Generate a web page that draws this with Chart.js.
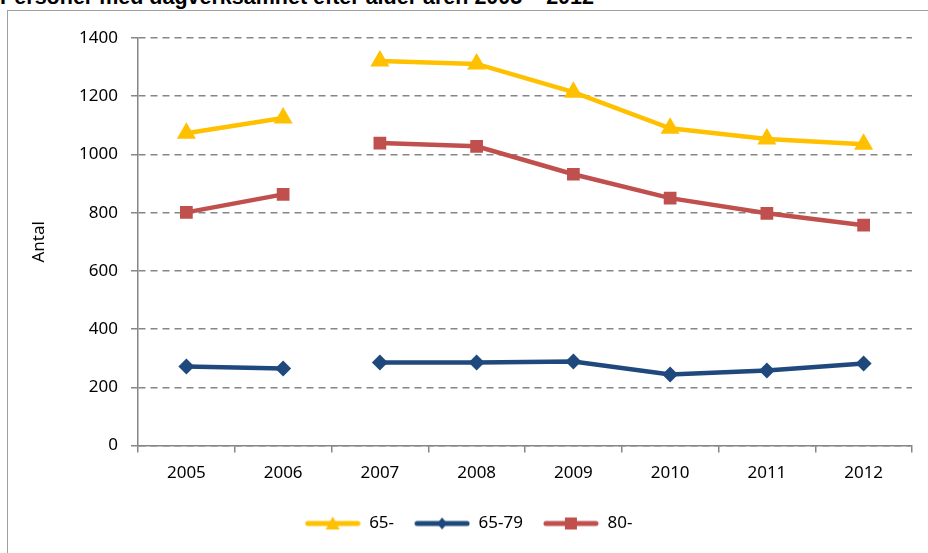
<!DOCTYPE html>
<html>
<head>
<meta charset="utf-8">
<script src="https://cdn.jsdelivr.net/npm/chart.js@4/dist/chart.umd.min.js"></script>
<style>
    html, body { margin: 0; padding: 0; background: #fff; overflow: hidden; }
    #wrap { position: relative; width: 928px; height: 553px; }
    #title {
        position: absolute; left: 0; top: -13px; white-space: nowrap;
        font: bold 21.5px "Liberation Sans", Arial, sans-serif; line-height: 21px; color: #000;
    }
    #frame {
        position: absolute; left: 7px; top: 10px; width: 940px; height: 560px;
        border: 1px solid #a0a0a0; box-sizing: border-box;
    }
    #chart { position: absolute; left: 0; top: 0; }
</style>
</head>
<body>
<div id="wrap">
    <div id="title">Personer med dagverksamhet efter ålder åren 2005 – 2012</div>
    <div id="frame"></div>
    <canvas id="chart" width="928" height="553"></canvas>
</div>
<script>
const years = ["2005", "2006", "2007", "2008", "2009", "2010", "2011", "2012"];
const age65plus = [1073, 1125, 1321, 1311, 1214, 1090, 1053, 1035];
const age65to79 = [272, 265, 285, 285, 289, 244, 258, 282];
const age80plus = [801, 863, 1039, 1028, 932, 850, 798, 757];
// the series are broken between these two years
const breakAfter = "2006";

const yellow = "#FFC000";
const blue = "#1F497D";
const red = "#C0504D";
const gridGray = "#868686";
const fontFamily = "'Noto Sans', 'Open Sans', sans-serif";

document.addEventListener("DOMContentLoaded", function () {
    const breakIndex = years.indexOf(breakAfter);
    const hideBreak = { borderColor: ctx => (ctx.p0DataIndex === breakIndex ? "rgba(0,0,0,0)" : undefined) };

    function legendIcon(color, shape) {
        const c = document.createElement("canvas");
        c.width = 56; c.height = 18;
        const g = c.getContext("2d");
        g.strokeStyle = color; g.fillStyle = color;
        g.lineWidth = 5; g.lineCap = "round";
        g.beginPath(); g.moveTo(3, 9); g.lineTo(53, 9); g.stroke();
        g.beginPath();
        if (shape === "triangle") {
            g.moveTo(28, 2); g.lineTo(35, 15); g.lineTo(21, 15); g.closePath();
        } else if (shape === "diamond") {
            g.moveTo(28, 3); g.lineTo(33, 9); g.lineTo(28, 15); g.lineTo(23, 9); g.closePath();
        } else {
            g.rect(22, 3, 12, 12);
        }
        g.fill();
        return c;
    }
    const icons = [legendIcon(yellow, "triangle"), legendIcon(blue, "diamond"), legendIcon(red, "square")];

    const ctx = document.getElementById("chart").getContext("2d");
    new Chart(ctx, {
        type: "line",
        data: {
            labels: years,
            datasets: [
                {
                    label: "65-",
                    data: age65plus,
                    borderColor: yellow,
                    backgroundColor: yellow,
                    borderWidth: 4.5,
                    pointStyle: "triangle",
                    pointRadius: 11,
                    pointBorderWidth: 0,
                    segment: hideBreak,
                },
                {
                    label: "65-79",
                    data: age65to79,
                    borderColor: blue,
                    backgroundColor: blue,
                    borderWidth: 4.5,
                    pointStyle: "rectRot",
                    pointRadius: 8,
                    pointBorderWidth: 0,
                    segment: hideBreak,
                },
                {
                    label: "80-",
                    data: age80plus,
                    borderColor: red,
                    backgroundColor: red,
                    borderWidth: 4.5,
                    pointStyle: "rect",
                    pointRadius: 9,
                    pointBorderWidth: 0,
                    segment: hideBreak,
                },
            ],
        },
        options: {
            responsive: false,
            animation: false,
            layout: { padding: { left: 25, top: 38, right: 16, bottom: 11 } },
            scales: {
                x: {
                    offset: true,
                    grid: {
                        offset: true,
                        drawOnChartArea: false,
                        color: gridGray,
                        tickLength: 7,
                        lineWidth: 1.5,
                    },
                    border: { color: gridGray, width: 1.5 },
                    ticks: { color: "#000", font: { family: fontFamily, size: 17 }, padding: 10 },
                    afterFit: function (scale) { scale.height += 2; },
                },
                y: {
                    min: 0,
                    max: 1400,
                    ticks: {
                        stepSize: 200,
                        color: "#000",
                        font: { family: fontFamily, size: 17 },
                        padding: 13,
                        callback: value => String(value),
                    },
                    grid: {
                        color: gridGray,
                        lineWidth: 1.5,
                        tickLength: 7,
                        tickColor: gridGray,
                        tickBorderDash: [],
                    },
                    border: { color: gridGray, width: 1.5, dash: [7, 5] },
                    title: { display: true, text: "Antal", color: "#000", font: { family: fontFamily, size: 17 }, padding: { bottom: 24 } },
                    afterFit: function (scale) { scale.width = 113; },
                },
            },
            plugins: {
                legend: {
                    position: "bottom",
                    labels: {
                        usePointStyle: true,
                        pointStyleWidth: 56,
                        padding: 20,
                        color: "#000",
                        font: { family: fontFamily, size: 17 },
                        generateLabels: function (chart) {
                            const items = Chart.defaults.plugins.legend.labels.generateLabels(chart);
                            items.forEach((item, i) => { item.pointStyle = icons[i]; });
                            return items;
                        },
                    },
                },
                tooltip: { enabled: false },
            },
        },
    });
});
</script>
</body>
</html>
